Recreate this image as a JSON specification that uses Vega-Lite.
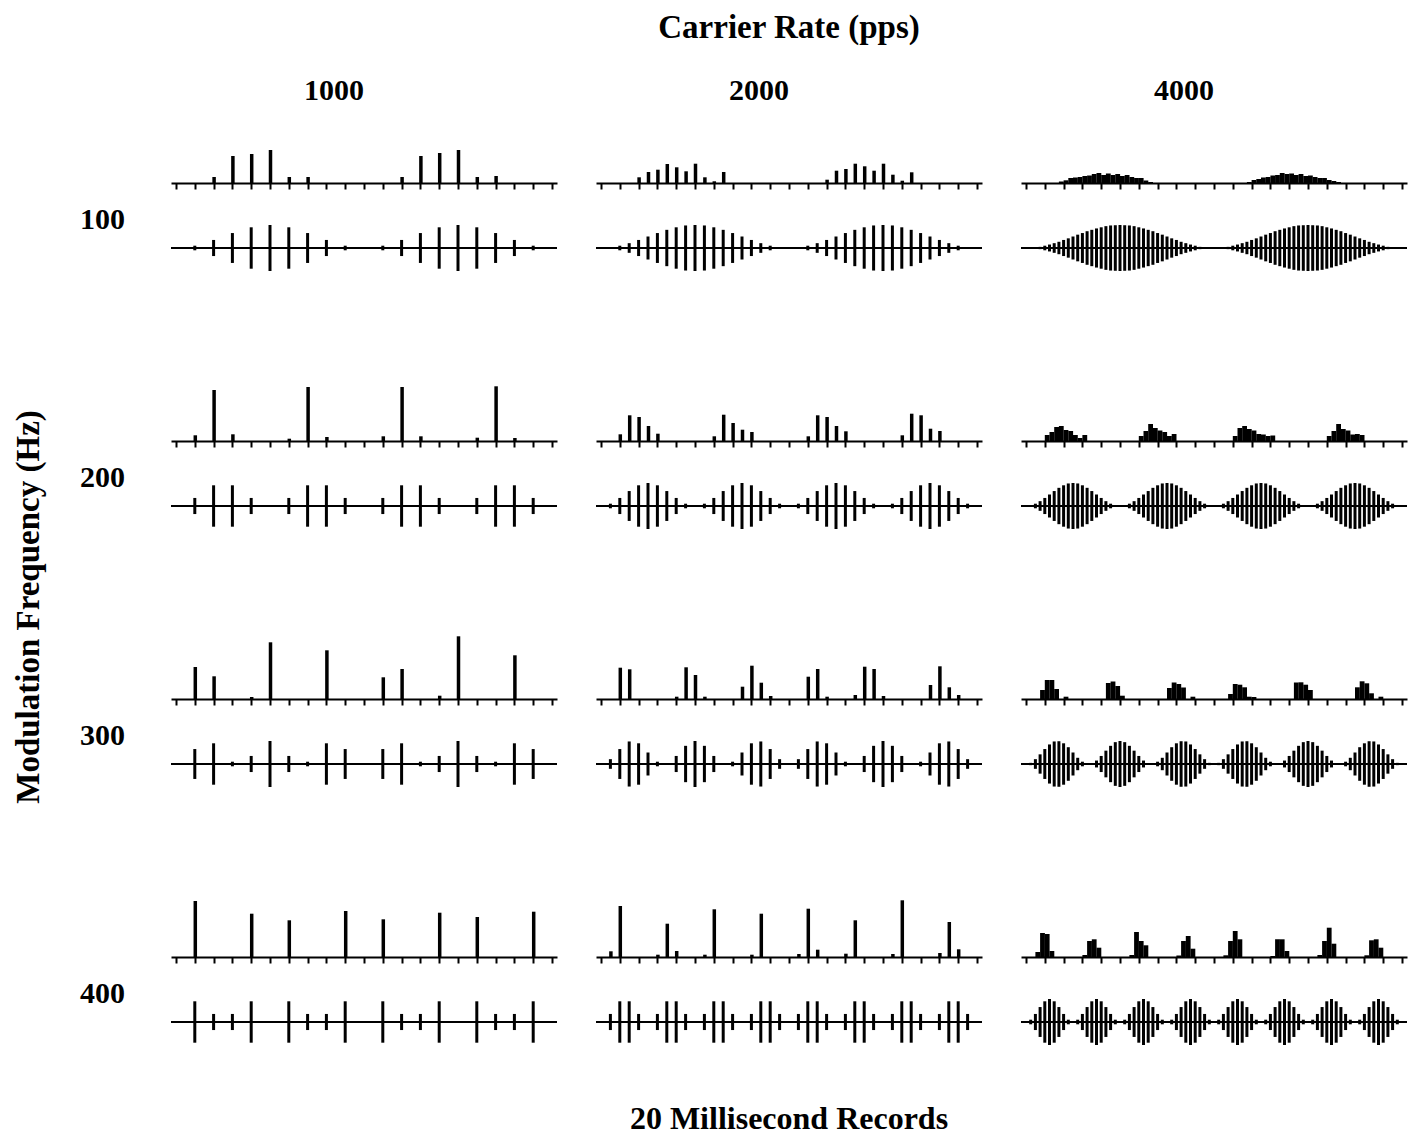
{
  "$schema": "https://vega.github.io/schema/vega-lite/v6.json",
  "padding": {"left": 12, "top": 12, "right": 10, "bottom": 0},
  "background": "white",
  "title": {"text": "20 Millisecond Records", "orient": "bottom", "anchor": "middle", "frame": "group", "dx": 618, "font": "Liberation Serif", "fontSize": 32, "fontWeight": "bold", "color": "black", "offset": 3},
  "data": {"values": [
    {"mod": 100, "rate": 1000,
     "t": [0,1,2,3,4,5,6,7,8,9,10,11,12,13,14,15,16,17,18,19],
     "amp": [0,0.1,0.35,0.65,0.9,1,0.9,0.65,0.35,0.1,0,0.1,0.35,0.65,0.9,1,0.9,0.65,0.35,0.1],
     "bt": [2,3,4,5,6,7,12,13,14,15,16,17],
     "count": [6,27,29,33,6,6,6,27,30,33,6,7]},
    {"mod": 100, "rate": 2000,
     "t": [0,0.5,1,1.5,2,2.5,3,3.5,4,4.5,5,5.5,6,6.5,7,7.5,8,8.5,9,9.5,10,10.5,11,11.5,12,12.5,13,13.5,14,14.5,15,15.5,16,16.5,17,17.5,18,18.5,19,19.5],
     "amp": [0,0.02,0.1,0.21,0.35,0.5,0.65,0.79,0.9,0.98,1,0.98,0.9,0.79,0.65,0.5,0.35,0.21,0.1,0.02,0,0.02,0.1,0.21,0.35,0.5,0.65,0.79,0.9,0.98,1,0.98,0.9,0.79,0.65,0.5,0.35,0.21,0.1,0.02],
     "bt": [2,2.5,3,3.5,4,4.5,5,5.5,6,6.5,12,12.5,13,13.5,14,14.5,15,15.5,16,16.5],
     "count": [5.7,11,13.3,19,15.7,11.7,19.3,5.7,1.7,11,3.3,12.3,14,19.3,16.7,12.3,19.3,8.3,2.3,10.7]},
    {"mod": 100, "rate": 4000,
     "t": [0,0.25,0.5,0.75,1,1.25,1.5,1.75,2,2.25,2.5,2.75,3,3.25,3.5,3.75,4,4.25,4.5,4.75,5,5.25,5.5,5.75,6,6.25,6.5,6.75,7,7.25,7.5,7.75,8,8.25,8.5,8.75,9,9.25,9.5,9.75,10,10.25,10.5,10.75,11,11.25,11.5,11.75,12,12.25,12.5,12.75,13,13.25,13.5,13.75,14,14.25,14.5,14.75,15,15.25,15.5,15.75,16,16.25,16.5,16.75,17,17.25,17.5,17.75,18,18.25,18.5,18.75,19,19.25,19.5,19.75],
     "amp": [0,0.01,0.02,0.05,0.1,0.15,0.21,0.27,0.35,0.42,0.5,0.58,0.65,0.73,0.79,0.85,0.9,0.95,0.98,0.99,1,0.99,0.98,0.95,0.9,0.85,0.79,0.73,0.65,0.58,0.5,0.42,0.35,0.27,0.21,0.15,0.1,0.05,0.02,0.01,0,0.01,0.02,0.05,0.1,0.15,0.21,0.27,0.35,0.42,0.5,0.58,0.65,0.73,0.79,0.85,0.9,0.95,0.98,0.99,1,0.99,0.98,0.95,0.9,0.85,0.79,0.73,0.65,0.58,0.5,0.42,0.35,0.27,0.21,0.15,0.1,0.05,0.02,0.01],
     "bt": [1.75,2,2.25,2.5,2.75,3,3.25,3.5,3.75,4,4.25,4.5,4.75,5,5.25,5.5,5.75,6,6.25,6.5,11.75,12,12.25,12.5,12.75,13,13.25,13.5,13.75,14,14.25,14.5,14.75,15,15.25,15.5,15.75,16,16.25,16.5],
     "count": [1.5,2.7,5,5.5,6,7,7.5,9,10,8,9.5,8,9,7,8,6,5,5,2.5,1,1,3,4,5.5,6,7.5,8,10,9,9.5,8,9,7,7.5,6,5,5,3,2,1]},
    {"mod": 200, "rate": 1000,
     "t": [0,1,2,3,4,5,6,7,8,9,10,11,12,13,14,15,16,17,18,19],
     "amp": [0,0.35,0.9,0.9,0.35,0,0.35,0.9,0.9,0.35,0,0.35,0.9,0.9,0.35,0,0.35,0.9,0.9,0.35],
     "bt": [1,2,3,6,7,8,11,12,13,16,17,18],
     "count": [5.7,51,6.7,2.3,54,4,4.7,54,4.7,3.3,54.7,3]},
    {"mod": 200, "rate": 2000,
     "t": [0,0.5,1,1.5,2,2.5,3,3.5,4,4.5,5,5.5,6,6.5,7,7.5,8,8.5,9,9.5,10,10.5,11,11.5,12,12.5,13,13.5,14,14.5,15,15.5,16,16.5,17,17.5,18,18.5,19,19.5],
     "amp": [0,0.1,0.35,0.65,0.9,1,0.9,0.65,0.35,0.1,0,0.1,0.35,0.65,0.9,1,0.9,0.65,0.35,0.1,0,0.1,0.35,0.65,0.9,1,0.9,0.65,0.35,0.1,0,0.1,0.35,0.65,0.9,1,0.9,0.65,0.35,0.1],
     "bt": [1,1.5,2,2.5,3,6,6.5,7,7.5,8,11,11.5,12,12.5,13,16,16.5,17,17.5,18],
     "count": [6.7,25.7,24,15,7.3,4.7,26.3,18,11.3,9,4.7,25.7,24,15,9.7,5.7,27.3,25.7,12.3,10]},
    {"mod": 200, "rate": 4000,
     "t": [0,0.25,0.5,0.75,1,1.25,1.5,1.75,2,2.25,2.5,2.75,3,3.25,3.5,3.75,4,4.25,4.5,4.75,5,5.25,5.5,5.75,6,6.25,6.5,6.75,7,7.25,7.5,7.75,8,8.25,8.5,8.75,9,9.25,9.5,9.75,10,10.25,10.5,10.75,11,11.25,11.5,11.75,12,12.25,12.5,12.75,13,13.25,13.5,13.75,14,14.25,14.5,14.75,15,15.25,15.5,15.75,16,16.25,16.5,16.75,17,17.25,17.5,17.75,18,18.25,18.5,18.75,19,19.25,19.5,19.75],
     "amp": [0,0.02,0.1,0.21,0.35,0.5,0.65,0.79,0.9,0.98,1,0.98,0.9,0.79,0.65,0.5,0.35,0.21,0.1,0.02,0,0.02,0.1,0.21,0.35,0.5,0.65,0.79,0.9,0.98,1,0.98,0.9,0.79,0.65,0.5,0.35,0.21,0.1,0.02,0,0.02,0.1,0.21,0.35,0.5,0.65,0.79,0.9,0.98,1,0.98,0.9,0.79,0.65,0.5,0.35,0.21,0.1,0.02,0,0.02,0.1,0.21,0.35,0.5,0.65,0.79,0.9,0.98,1,0.98,0.9,0.79,0.65,0.5,0.35,0.21,0.1,0.02],
     "bt": [1,1.25,1.5,1.75,2,2.25,2.5,2.75,3,6,6.25,6.5,6.75,7,7.25,7.5,7.75,11,11.25,11.5,11.75,12,12.25,12.5,12.75,13,16,16.25,16.5,16.75,17,17.25,17.5,17.75],
     "count": [6,9,14,15,11,10,6,3,6,5,10,17,13,10.5,9,5,7,5,13,15,12,10.5,7,6.5,5,5.5,5,10,17,12,10.5,6.5,7,6]},
    {"mod": 300, "rate": 1000,
     "t": [0,1,2,3,4,5,6,7,8,9,10,11,12,13,14,15,16,17,18,19],
     "amp": [0,0.65,0.9,0.1,0.35,1,0.35,0.1,0.9,0.65,0,0.65,0.9,0.1,0.35,1,0.35,0.1,0.9,0.65],
     "bt": [1,2,4,5,8,11,12,14,15,18],
     "count": [32,22.7,2,56.7,48.7,21.7,30,3.3,62.7,43.7]},
    {"mod": 300, "rate": 2000,
     "t": [0,0.5,1,1.5,2,2.5,3,3.5,4,4.5,5,5.5,6,6.5,7,7.5,8,8.5,9,9.5,10,10.5,11,11.5,12,12.5,13,13.5,14,14.5,15,15.5,16,16.5,17,17.5,18,18.5,19,19.5],
     "amp": [0,0.21,0.65,0.98,0.9,0.5,0.1,0.02,0.35,0.79,1,0.79,0.35,0.02,0.1,0.5,0.9,0.98,0.65,0.21,0,0.21,0.65,0.98,0.9,0.5,0.1,0.02,0.35,0.79,1,0.79,0.35,0.02,0.1,0.5,0.9,0.98,0.65,0.21],
     "bt": [1,1.5,4,4.5,5,5.5,7.5,8,8.5,9,11,11.5,12,13.5,14,14.5,15,17.5,18,18.5,19],
     "count": [31.3,29.7,2.3,31.7,24,2.3,12.3,33.3,16.3,3,22.3,30,2.3,4,32.3,30,3,14,32.7,11.7,4]},
    {"mod": 300, "rate": 4000,
     "t": [0,0.25,0.5,0.75,1,1.25,1.5,1.75,2,2.25,2.5,2.75,3,3.25,3.5,3.75,4,4.25,4.5,4.75,5,5.25,5.5,5.75,6,6.25,6.5,6.75,7,7.25,7.5,7.75,8,8.25,8.5,8.75,9,9.25,9.5,9.75,10,10.25,10.5,10.75,11,11.25,11.5,11.75,12,12.25,12.5,12.75,13,13.25,13.5,13.75,14,14.25,14.5,14.75,15,15.25,15.5,15.75,16,16.25,16.5,16.75,17,17.25,17.5,17.75,18,18.25,18.5,18.75,19,19.25,19.5,19.75],
     "amp": [0,0.05,0.21,0.42,0.65,0.85,0.98,0.99,0.9,0.73,0.5,0.27,0.1,0.01,0.02,0.15,0.35,0.58,0.79,0.95,1,0.95,0.79,0.58,0.35,0.15,0.02,0.01,0.1,0.27,0.5,0.73,0.9,0.99,0.98,0.85,0.65,0.42,0.21,0.05,0,0.05,0.21,0.42,0.65,0.85,0.98,0.99,0.9,0.73,0.5,0.27,0.1,0.01,0.02,0.15,0.35,0.58,0.79,0.95,1,0.95,0.79,0.58,0.35,0.15,0.02,0.01,0.1,0.27,0.5,0.73,0.9,0.99,0.98,0.85,0.65,0.42,0.21,0.05],
     "bt": [0.75,1,1.25,1.5,2,4.25,4.5,4.75,5,7.5,7.75,8,8.25,8.75,10.75,11,11.25,11.5,11.75,12,14.25,14.5,14.75,15,17.5,17.75,18,18.25,18.75],
     "count": [9,19,19,10,2.3,16,17.5,13,3.3,11,16.5,15,11.5,2.3,5,15,14.3,11.7,2.3,2,16.5,16.7,14.3,9,11.7,17.7,15.7,5.7,2.3]},
    {"mod": 400, "rate": 1000,
     "t": [0,1,2,3,4,5,6,7,8,9,10,11,12,13,14,15,16,17,18,19],
     "amp": [0,0.9,0.35,0.35,0.9,0,0.9,0.35,0.35,0.9,0,0.9,0.35,0.35,0.9,0,0.9,0.35,0.35,0.9],
     "bt": [1,4,6,9,11,14,16,19],
     "count": [56,43.3,36.7,46,37.7,44.3,40,45.3]},
    {"mod": 400, "rate": 2000,
     "t": [0,0.5,1,1.5,2,2.5,3,3.5,4,4.5,5,5.5,6,6.5,7,7.5,8,8.5,9,9.5,10,10.5,11,11.5,12,12.5,13,13.5,14,14.5,15,15.5,16,16.5,17,17.5,18,18.5,19,19.5],
     "amp": [0,0.35,0.9,0.9,0.35,0,0.35,0.9,0.9,0.35,0,0.35,0.9,0.9,0.35,0,0.35,0.9,0.9,0.35,0,0.35,0.9,0.9,0.35,0,0.35,0.9,0.9,0.35,0,0.35,0.9,0.9,0.35,0,0.35,0.9,0.9,0.35],
     "bt": [0.5,1,3,3.5,4,5.5,6,8,8.5,10.5,11,11.5,13,13.5,15.5,16,18,18.5,19],
     "count": [5.7,51,2.3,33.3,6,2.3,47.7,2.3,43.3,3,48.3,7.3,3.3,36.7,3,56.7,4,35,7.7]},
    {"mod": 400, "rate": 4000,
     "t": [0,0.25,0.5,0.75,1,1.25,1.5,1.75,2,2.25,2.5,2.75,3,3.25,3.5,3.75,4,4.25,4.5,4.75,5,5.25,5.5,5.75,6,6.25,6.5,6.75,7,7.25,7.5,7.75,8,8.25,8.5,8.75,9,9.25,9.5,9.75,10,10.25,10.5,10.75,11,11.25,11.5,11.75,12,12.25,12.5,12.75,13,13.25,13.5,13.75,14,14.25,14.5,14.75,15,15.25,15.5,15.75,16,16.25,16.5,16.75,17,17.25,17.5,17.75,18,18.25,18.5,18.75,19,19.25,19.5,19.75],
     "amp": [0,0.1,0.35,0.65,0.9,1,0.9,0.65,0.35,0.1,0,0.1,0.35,0.65,0.9,1,0.9,0.65,0.35,0.1,0,0.1,0.35,0.65,0.9,1,0.9,0.65,0.35,0.1,0,0.1,0.35,0.65,0.9,1,0.9,0.65,0.35,0.1,0,0.1,0.35,0.65,0.9,1,0.9,0.65,0.35,0.1,0,0.1,0.35,0.65,0.9,1,0.9,0.65,0.35,0.1,0,0.1,0.35,0.65,0.9,1,0.9,0.65,0.35,0.1,0,0.1,0.35,0.65,0.9,1,0.9,0.65,0.35,0.1],
     "bt": [0.5,0.75,1,1.25,3,3.25,3.5,3.75,5.5,5.75,6,6.25,8,8.25,8.5,8.75,10.5,10.75,11,11.25,13,13.25,13.5,13.75,15.5,15.75,16,16.25,18,18.25,18.5,18.75],
     "count": [5,24,23,6,2,16,17.7,9.3,2,25,16,11.7,1.5,16,21,8.3,1.7,16,26,17.7,1,17.7,17.7,6,2,16,29.3,13.3,1.7,16.7,17.7,9.3]}
  ]},
  "transform": [{"flatten": ["t", "amp", "bt", "count"]}],
  "facet": {
    "row": {"field": "mod", "type": "ordinal",
      "header": {"title": "Modulation Frequency (Hz)", "labelAngle": 0, "labelAlign": "right", "labelBaseline": "middle", "labelPadding": 0, "titlePadding": 24}},
    "column": {"field": "rate", "type": "ordinal",
      "header": {"title": "Carrier Rate (pps)", "labelAlign": "right", "labelPadding": 7, "titlePadding": 21}}
  },
  "spacing": {"row": 44, "column": 37},
  "resolve": {"axis": {"x": "independent"}},
  "spec": {
    "width": 386,
    "height": 214,
    "layer": [
      {
        "transform": [{"filter": "isValid(datum.bt) && datum.rate < 4000"}],
        "mark": {"type": "bar", "orient": "vertical", "width": 3.5, "xOffset": 0.5, "color": "black"},
        "encoding": {
          "x": {"field": "bt", "type": "quantitative",
            "scale": {"domain": [0, 20], "nice": false, "zero": false},
            "axis": {"orient": "bottom", "offset": -144, "values": [0,1,2,3,4,5,6,7,8,9,10,11,12,13,14,15,16,17,18,19,20],
              "labels": false, "title": null, "grid": false, "tickSize": 6, "tickWidth": 2, "domainWidth": 2,
              "domainColor": "black", "tickColor": "black"}},
          "y": {"field": "count", "type": "quantitative", "scale": {"domain": [-144, 70], "nice": false, "zero": false}, "axis": null}
        }
      },
      {
        "transform": [{"filter": "isValid(datum.bt) && datum.rate == 4000"}],
        "mark": {"type": "bar", "orient": "vertical", "width": 4.8, "xOffset": 2.4, "color": "black"},
        "encoding": {
          "x": {"field": "bt", "type": "quantitative",
            "axis": {"orient": "bottom", "offset": -144, "values": [0,1,2,3,4,5,6,7,8,9,10,11,12,13,14,15,16,17,18,19,20],
              "labels": false, "title": null, "grid": false, "tickSize": 6, "tickWidth": 2, "domainWidth": 2,
              "domainColor": "black", "tickColor": "black"}},
          "y": {"field": "count", "type": "quantitative", "scale": {"domain": [-144, 70], "nice": false, "zero": false}, "axis": null}
        }
      },
      {
        "transform": [{"filter": "datum.t === 0"}],
        "mark": {"type": "rule", "color": "black", "strokeWidth": 2},
        "encoding": {
          "y": {"datum": 0, "type": "quantitative", "scale": {"domain": [-79, 135], "nice": false, "zero": false}, "axis": null}
        }
      },
      {
        "transform": [{"filter": "isValid(datum.t)"}],
        "mark": {"type": "tick", "orient": "vertical", "thickness": 3, "color": "black", "opacity": 1},
        "encoding": {
          "x": {"field": "t", "type": "quantitative",
            "axis": {"orient": "bottom", "offset": -144, "values": [0,1,2,3,4,5,6,7,8,9,10,11,12,13,14,15,16,17,18,19,20],
              "labels": false, "title": null, "grid": false, "tickSize": 6, "tickWidth": 2, "domainWidth": 2,
              "domainColor": "black", "tickColor": "black"}},
          "y": {"datum": 0, "type": "quantitative", "scale": {"domain": [-79, 135], "nice": false, "zero": false}, "axis": null},
          "size": {"field": "amp", "type": "quantitative", "scale": {"type": "linear", "domain": [0, 1], "range": [0, 46]}, "legend": null}
        }
      }
    ],
    "resolve": {"scale": {"y": "independent"}}
  },
  "config": {
    "view": {"stroke": null},
    "font": "Liberation Serif",
    "header": {
      "labelFont": "Liberation Serif", "labelFontSize": 30, "labelFontWeight": "bold", "labelColor": "black",
      "titleFont": "Liberation Serif", "titleFontSize": 33, "titleFontWeight": "bold", "titleColor": "black"
    }
  }
}
